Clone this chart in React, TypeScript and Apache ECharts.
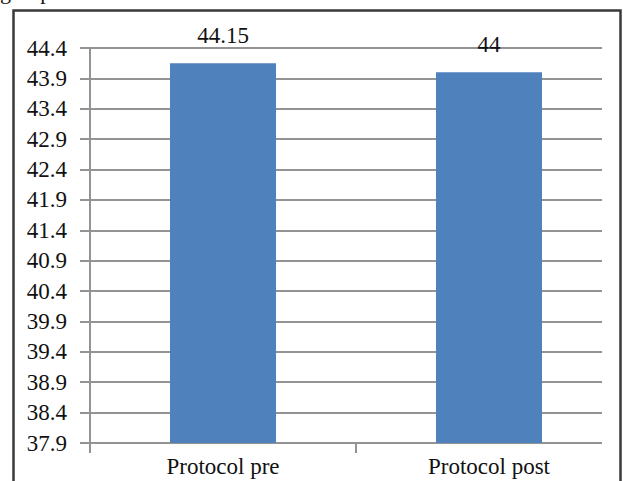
import React, { useEffect, useRef } from "react";
import * as echarts from "echarts";

const categories = ["Protocol pre", "Protocol post"];
const values = [44.15, 44];
const yTicks = [37.9, 38.4, 38.9, 39.4, 39.9, 40.4, 40.9, 41.4, 41.9, 42.4, 42.9, 43.4, 43.9, 44.4];
const categoryPositions = [0.5, 1.5];
const categoryBoundaries = [0, 1];
const captionFragment = "group";

const FONT = "Liberation Serif";
const TEXT_COLOR = "#111111";
const GRID_COLOR = "#939393";

export default function App() {
  const ref = useRef<HTMLDivElement>(null);
  useEffect(() => {
    document.body.style.margin = "0";
    const chart = echarts.init(ref.current!, null, { renderer: "svg" });
    const yMin = yTicks[0];
    const yMax = yTicks[yTicks.length - 1];
    const lineStyle = { color: GRID_COLOR, width: 2 };
    chart.setOption({
      animation: false,
      textStyle: { fontFamily: FONT },
      grid: [
        { left: 90, top: 48, width: 512, height: 395 },
        { left: 90, top: 48, width: 532, height: 395 },
      ],
      xAxis: [
        { gridIndex: 0, type: "value", min: 0, max: 1, show: false },
        {
          gridIndex: 1,
          type: "value",
          min: 0,
          max: categories.length,
          axisLine: { show: false },
          axisTick: { show: true, customValues: categoryBoundaries, length: 10, lineStyle },
          axisLabel: {
            customValues: categoryPositions,
            formatter: (v: number) => categories[Math.floor(v)],
            margin: 12,
            fontFamily: FONT,
            fontSize: 23,
            color: TEXT_COLOR,
          },
          splitLine: { show: false },
        },
      ],
      yAxis: [
        {
          gridIndex: 0,
          type: "value",
          min: yMin,
          max: yMax,
          axisLine: { show: true, lineStyle },
          axisTick: { show: true, customValues: yTicks, length: 10, lineStyle },
          axisLabel: {
            customValues: yTicks,
            margin: 23,
            fontFamily: FONT,
            fontSize: 23,
            color: TEXT_COLOR,
          },
          splitLine: { show: true, lineStyle },
        },
        { gridIndex: 1, type: "value", min: yMin, max: yMax, show: false },
      ],
      series: [
        {
          type: "bar",
          xAxisIndex: 1,
          yAxisIndex: 1,
          data: categories.map((c, i) => [categoryPositions[i], values[i]]),
          barWidth: 106,
          itemStyle: { color: "#4F81BD" },
          label: {
            show: true,
            position: "top",
            distance: 16,
            formatter: (p: any) => String(p.value[1]),
            fontFamily: FONT,
            fontSize: 23,
            color: TEXT_COLOR,
          },
        },
      ],
      graphic: [
        {
          type: "rect",
          shape: { x: 13.5, y: 10.5, width: 607, height: 490 },
          style: { fill: "none", stroke: "#3a3a3a", lineWidth: 2.5 },
          silent: true,
        },
        {
          type: "text",
          x: 0,
          y: -20,
          style: {
            text: captionFragment,
            fontFamily: FONT,
            fontSize: 22,
            fill: TEXT_COLOR,
            verticalAlign: "top",
          },
          silent: true,
        },
      ],
    });
    return () => chart.dispose();
  }, []);
  return <div ref={ref} style={{ width: 623, height: 481 }} />;
}
